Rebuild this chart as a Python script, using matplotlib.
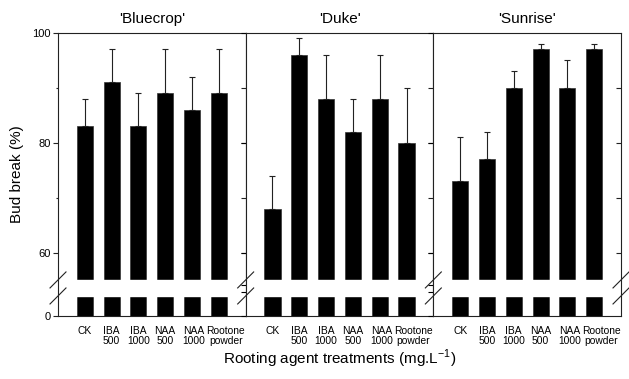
import numpy as np
import matplotlib.pyplot as plt
from matplotlib.transforms import ScaledTranslation

plt.rcParams['font.family'] = ['Liberation Sans', 'DejaVu Sans']
plt.rcParams['mathtext.fontset'] = 'custom'
plt.rcParams['mathtext.rm'] = 'Liberation Sans'

treatments = ['CK', 'IBA\n500', 'IBA\n1000', 'NAA\n500', 'NAA\n1000', 'Rootone\npowder']
cultivars = ["'Bluecrop'", "'Duke'", "'Sunrise'"]
bluecrop = [83, 91, 83, 89, 86, 89]
bluecrop_err = [5, 6, 6, 8, 6, 8]
duke = [68, 96, 88, 82, 88, 80]
duke_err = [6, 3, 8, 6, 8, 10]
sunrise = [73, 77, 90, 97, 90, 97]
sunrise_err = [8, 5, 3, 1, 5, 1]

# broken y axis: 0..10 as a short stub, 10..55 squeezed into a gap, 55..100 linear
BRK_LO, BRK_HI = 10.0, 55.0
GAP, STUB = 2.92, 3.65


def fwd(y):
    y = np.asarray(y, dtype=float)
    lo = BRK_HI - GAP - STUB + y * STUB / BRK_LO
    mid = BRK_HI - GAP + (y - BRK_LO) * GAP / (BRK_HI - BRK_LO)
    return np.where(y >= BRK_HI, y, np.where(y >= BRK_LO, mid, lo))


def inv(v):
    v = np.asarray(v, dtype=float)
    lo = (v - (BRK_HI - GAP - STUB)) * BRK_LO / STUB
    mid = BRK_LO + (v - (BRK_HI - GAP)) * (BRK_HI - BRK_LO) / GAP
    return np.where(v >= BRK_HI, v, np.where(v >= BRK_HI - GAP, mid, lo))


def frac(y):
    return float((fwd(y) - fwd(0)) / (fwd(100) - fwd(0)))


fig = plt.figure(figsize=(6.29, 3.79), dpi=100)
L, B = 58 / 629, 63 / 379
W, H = (621 - 58) / 629 / 3, 283 / 379
x = np.arange(1, 7)
dark = '#222222'
# small horizontal nudges (px) of the last two tick labels, as in the original
nudge = [0, 0, 0, 0, 2, 7]

data = [(bluecrop, bluecrop_err), (duke, duke_err), (sunrise, sunrise_err)]
axes = []
for i, (vals, err) in enumerate(data):
    ax = fig.add_axes([L + i * W, B, W, H])
    ax.set_yscale('function', functions=(fwd, inv))
    ax.bar(x, vals, width=0.6, color='black', edgecolor='#333333', linewidth=0.5)
    ax.errorbar(x, vals, yerr=[np.zeros(len(err)), err], fmt='none',
                ecolor=dark, elinewidth=0.8, capsize=2.5, capthick=0.8)
    ax.axhspan(BRK_LO, BRK_HI, color='white', zorder=1.5)
    ax.set_xlim(0, 7)
    ax.set_ylim(0, 100)
    ax.set_title(cultivars[i], fontsize=11, pad=7)
    ax.set_xticks(x, treatments, linespacing=0.95)
    ax.tick_params(axis='x', length=0, pad=7.5, labelsize=7.4)
    for lab, n in zip(ax.get_xticklabels(), nudge):
        lab.set_transform(lab.get_transform() + ScaledTranslation(n / 100, 0, fig.dpi_scale_trans))
    for s in ax.spines.values():
        s.set_color(dark)
        s.set_linewidth(0.8)

    if i == 0:
        ax.set_yticks([0, 60, 80, 100])
        ax.set_yticks([70, 90], minor=True)
        ax.tick_params(axis='y', which='major', direction='out', length=3.6,
                       width=0.8, color=dark, pad=1.5, labelsize=8)
        ax.tick_params(axis='y', which='minor', direction='out', length=1.8,
                       width=0.8, color=dark)
        ax.set_ylabel('Bud break (%)', fontsize=11, labelpad=6)
    else:
        ax.tick_params(axis='y', which='both', left=False, labelleft=False)

    # inward ticks on the right edge of every panel
    tw = ax.twinx()
    tw.set_yscale('function', functions=(fwd, inv))
    tw.set_ylim(0, 100)
    tw.set_yticks([60, 70, 80, 90])
    tw.tick_params(axis='y', direction='in', length=3.6, width=0.8, color=dark,
                   labelright=False)
    for s in tw.spines.values():
        s.set_visible(False)

    # break marks
    dx, dy = 8 / 188, 8 / 283
    edges = [0, 1] if i == 2 else [0]
    for ex in edges:
        for yb in (BRK_HI, BRK_LO):
            yf = frac(yb)
            ax.plot([ex - dx, ex + dx], [yf - dy, yf + dy], transform=ax.transAxes,
                    color=dark, lw=0.8, clip_on=False, zorder=5)
    axes.append(ax)

axes[1].set_xlabel(r'Rooting agent treatments (mg.L$^{\mathregular{-1}}$)',
                   fontsize=11, labelpad=1)

fig.savefig('out.png', dpi=100)
